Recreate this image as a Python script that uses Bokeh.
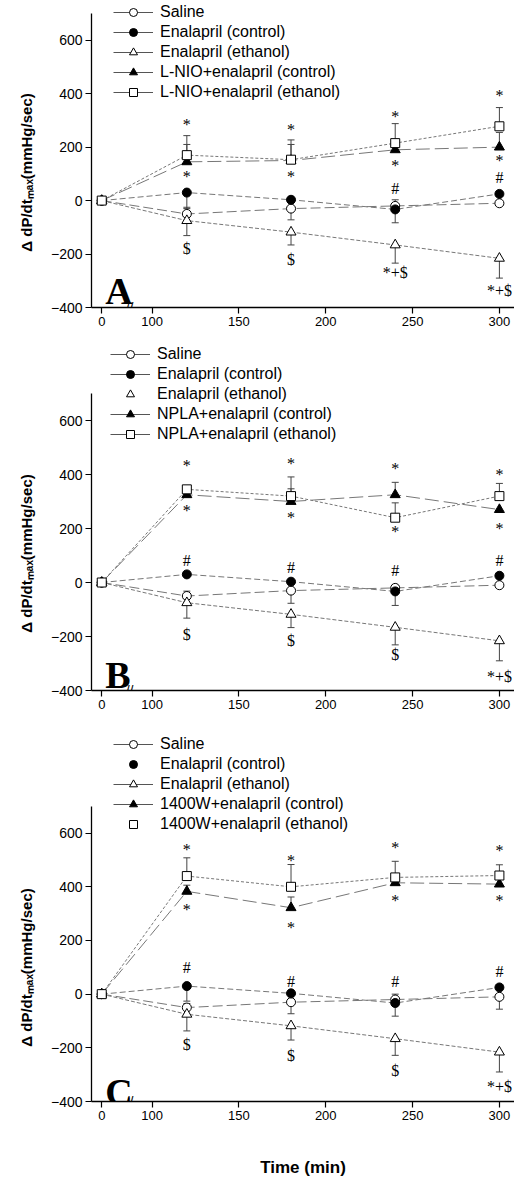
import math
from bokeh.plotting import figure
from bokeh.models import (ColumnDataSource, Whisker, TeeHead, Legend, LegendItem,
                          FixedTicker, Range1d, Label)
from bokeh.layouts import column, row
from bokeh.embed import file_html
from bokeh.resources import INLINE
from bokeh.core.properties import value

# ---------------- data ----------------
TIME = [0, 120, 180, 240, 300]
X_TICKS = [0, 100, 150, 200, 250, 300]
Y_TICKS = [-400, -200, 0, 200, 400, 600]

saline = [0, -50, -30, -20, -10]
enal_ctrl = [0, 30, 3, -33, 25]
enal_eth = [0, -75, -118, -166, -216]

# Panel A (L-NIO)
a_ctrl = [0, 145, 150, 190, 200]
a_ctrl_up = [0, 65, 60, 0, 55]
a_eth = [0, 170, 153, 215, 278]
a_eth_up = [0, 73, 74, 73, 70]
a_sal_up = [0, 25, 0, 23, 0]
a_sal_dn = [0, 0, 42, 0, 0]
a_ec_dn = [0, 60, 0, 50, 0]
a_ee_dn = [0, 56, 48, 68, 74]
a_ann_x = [120, 120, 120, 180, 180, 180, 240, 240, 240, 240, 300, 300, 300, 300]
a_ann_y = [284, 91, -181, 265, 91, -222, 316, 131, 44, -269, 394, 150, 88, -335]
a_ann_t = ["*", "*", "$", "*", "*", "$", "*", "*", "#", "*+$", "*", "*", "#", "*+$"]

# Panel B (NPLA)
b_ctrl = [0, 325, 300, 325, 270]
b_ctrl_up = [0, 0, 47, 46, 0]
b_eth = [0, 345, 320, 240, 320]
b_eth_up = [0, 0, 71, 55, 47]
b_sal_up = [0, 18, 0, 10, 0]
b_sal_dn = [0, 0, 47, 0, 0]
b_ec_dn = [0, 0, 0, 52, 0]
b_ee_dn = [0, 57, 49, 65, 74]
b_ann_x = [120, 120, 120, 120, 180, 180, 180, 180, 240, 240, 240, 240, 300, 300, 300, 300]
b_ann_y = [432, 265, 80, -194, 441, 241, 56, -214, 422, 188, 46, -268, 401, 201, 80, -349]
b_ann_t = ["*", "*", "#", "$", "*", "*", "#", "$", "*", "*", "#", "$", "*", "*", "#", "*+$"]

# Panel C (1400W)
c_ctrl = [0, 383, 322, 415, 410]
c_ctrl_up = [0, 23, 40, 0, 0]
c_eth = [0, 440, 400, 435, 442]
c_eth_up = [0, 68, 83, 60, 40]
c_sal_up = [0, 15, 0, 20, 0]
c_sal_dn = [0, 0, 43, 0, 46]
c_ec_dn = [0, 56, 0, 49, 0]
c_ee_dn = [0, 62, 53, 62, 74]
c_ann_x = [120, 120, 120, 120, 180, 180, 180, 180, 240, 240, 240, 240, 300, 300, 300, 300]
c_ann_y = [540, 317, 98, -189, 499, 249, 48, -230, 548, 348, 48, -284, 537, 348, 86, -343]
c_ann_t = ["*", "*", "#", "$", "*", "*", "#", "$", "*", "*", "#", "$", "*", "*", "#", "*+$"]

# ---------------- styling / layout ----------------
ZERO_AT = 71          # display position of t=0 on the broken axis
def xd(t):
    return t if t >= 100 else ZERO_AT

SANS = "Liberation Sans"
SERIF = "Liberation Serif"
LINE_COL = "#777777"
ERR_COL = "#444444"
YLABEL = "\u0394 dP/dt\u2098\u2090\u2093(mmHg/sec)"
NAN = float("nan")
PAGE_H = 1179
LABEL_W = 46
# vertical centre (page px from top) of each panel's rotated y-axis title
YLABEL_CENTRES = [172, 553, 967]

PANELS = [
    dict(letter="A", treat="L-NIO", ctrl=a_ctrl, ctrl_up=a_ctrl_up, eth=a_eth, eth_up=a_eth_up,
         sal_up=a_sal_up, sal_dn=a_sal_dn, ec_dn=a_ec_dn, ee_dn=a_ee_dn,
         ann=(a_ann_x, a_ann_y, a_ann_t), noline=set(),
         height=333, btop=0, bbot=26, ytop=748.6, loc=(22, 205), letter_y=-337, xlabel=None),
    dict(letter="B", treat="NPLA", ctrl=b_ctrl, ctrl_up=b_ctrl_up, eth=b_eth, eth_up=b_eth_up,
         sal_up=b_sal_up, sal_dn=b_sal_dn, ec_dn=b_ec_dn, ee_dn=b_ee_dn,
         ann=(b_ann_x, b_ann_y, b_ann_t), noline={2},
         height=385, btop=8, bbot=28, ytop=892.6, loc=(19, 246), letter_y=-344, xlabel=None),
    dict(letter="C", treat="1400W", ctrl=c_ctrl, ctrl_up=c_ctrl_up, eth=c_eth, eth_up=c_eth_up,
         sal_up=c_sal_up, sal_dn=c_sal_dn, ec_dn=c_ec_dn, ee_dn=c_ee_dn,
         ann=(c_ann_x, c_ann_y, c_ann_t), noline={1, 4},
         height=461, btop=12, bbot=77, ytop=982.4, loc=(22, 267), letter_y=-363, xlabel="Time (min)"),
]


def whisker(p, ys, errs, up):
    xs, lo, hi = [], [], []
    for t, y, e in zip(TIME, ys, errs):
        if e > 0:
            xs.append(xd(t))
            lo.append(y if up else y - e)
            hi.append(y + e if up else y)
    if not xs:
        return
    src = ColumnDataSource(dict(x=xs, lower=lo, upper=hi))
    head = TeeHead(size=7, line_color=ERR_COL, line_width=1)
    w = Whisker(source=src, base="x", lower="lower", upper="upper", dimension="height",
                line_color=ERR_COL, line_width=1, level="underlay",
                upper_head=head if up else None, lower_head=None if up else head)
    p.add_layout(w)


def make_panel(cfg):
    p = figure(width=514 - LABEL_W, height=cfg["height"], output_backend="svg",
               toolbar_location=None, title=None,
               x_range=Range1d(65.1, 308.7), y_range=Range1d(-400, cfg["ytop"]),
               min_border_left=91 - LABEL_W, min_border_right=0, min_border_top=cfg["btop"],
               min_border_bottom=cfg["bbot"])
    p.outline_line_color = None
    p.xgrid.visible = False
    p.ygrid.visible = False
    p.background_fill_color = "white"

    xs = [xd(t) for t in TIME]
    series = [
        ("Saline", saline, "circle", "white", "10 4", 9),
        ("Enalapril (control)", enal_ctrl, "circle", "black", "6 3", 9),
        ("Enalapril (ethanol)", enal_eth, "triangle", "white", "4 2", 10),
        (cfg["treat"] + "+enalapril (control)", cfg["ctrl"], "triangle", "black", "14 5", 10),
        (cfg["treat"] + "+enalapril (ethanol)", cfg["eth"], "square", "white", "3 2", 9),
    ]

    for name, ys, mk, fill, dash, sz in series:
        p.line(xs, ys, line_color=LINE_COL, line_width=1, line_dash=dash)

    whisker(p, saline, cfg["sal_up"], True)
    whisker(p, saline, cfg["sal_dn"], False)
    whisker(p, enal_ctrl, cfg["ec_dn"], False)
    whisker(p, enal_eth, cfg["ee_dn"], False)
    whisker(p, cfg["ctrl"], cfg["ctrl_up"], True)
    whisker(p, cfg["eth"], cfg["eth_up"], True)

    items = []
    for i, (name, ys, mk, fill, dash, sz) in enumerate(series):
        r = p.scatter(xs, ys, marker=mk, size=sz, fill_color=fill, line_color="black", line_width=1)
        rends = []
        if i not in cfg["noline"]:
            # legend-only solid line (no visible data)
            rends.append(p.line(x=[NAN, NAN], y=[NAN, NAN], line_color="#555555", line_width=1))
        rends.append(r)
        items.append(LegendItem(label=name, renderers=rends))

    ax, ay, at = cfg["ann"]
    p.text(x=[xd(t) for t in ax], y=ay, text=at, text_font=value(SERIF),
           text_font_size="16px", text_align="center", text_baseline="middle",
           text_color="black")

    legend = Legend(items=items, location=cfg["loc"], orientation="vertical",
                    label_text_font=SANS, label_text_font_size="16px", label_text_color="black",
                    glyph_width=40, glyph_height=20, label_height=20, label_standoff=7,
                    spacing=0, padding=0, margin=0, border_line_color=None,
                    background_fill_alpha=0)
    p.add_layout(legend)

    p.add_layout(Label(x=73, y=cfg["letter_y"], text=cfg["letter"], text_font=SERIF,
                       text_font_size="38px", text_font_style="bold", text_color="black",
                       text_baseline="alphabetic", text_align="left"))
    # axis-break mark across the x axis
    p.add_layout(Label(x=87, y=-400, text="//", text_font=SANS, text_font_size="14px",
                       text_color="black", text_align="center", text_baseline="middle"))

    # axes
    p.xaxis.ticker = FixedTicker(ticks=[xd(t) for t in X_TICKS])
    p.xaxis.major_label_overrides = {ZERO_AT: "0"}
    p.yaxis.ticker = FixedTicker(ticks=Y_TICKS)
    p.yaxis.bounds = (-400, 700)
    for ax_ in (p.xaxis, p.yaxis):
        ax_.axis_line_color = "black"
        ax_.axis_line_width = 1.3
        ax_.major_tick_line_color = "black"
        ax_.major_tick_line_width = 1.2
        ax_.major_tick_out = 6
        ax_.major_tick_in = 0
        ax_.minor_tick_line_color = None
        ax_.major_label_standoff = 3
        ax_.major_label_text_font = SANS
        ax_.major_label_text_color = "black"
    p.yaxis.major_label_text_font_size = "14px"
    p.xaxis.major_label_text_font_size = "13px"

    if cfg["xlabel"]:
        p.xaxis.axis_label = cfg["xlabel"]
        p.xaxis.axis_label_text_font = SANS
        p.xaxis.axis_label_text_font_style = "bold"
        p.xaxis.axis_label_text_font_size = "17px"
        p.xaxis.axis_label_text_color = "black"
        p.xaxis.axis_label_standoff = 35
    return p


# narrow strip at the left that carries the three rotated y-axis titles
lab = figure(width=LABEL_W, height=PAGE_H, output_backend="svg", toolbar_location=None,
             title=None, x_axis_type=None, y_axis_type=None,
             x_range=Range1d(0, LABEL_W), y_range=Range1d(0, PAGE_H),
             min_border_left=0, min_border_right=0, min_border_top=0, min_border_bottom=0)
lab.outline_line_color = None
lab.background_fill_color = "white"
lab.text(x=[26] * 3, y=[PAGE_H - c for c in YLABEL_CENTRES], text=[YLABEL] * 3,
         angle=math.pi / 2, text_font=value(SANS), text_font_style="bold",
         text_font_size="15px", text_align="center", text_baseline="middle",
         text_color="black")

plots = [make_panel(c) for c in PANELS]
layout = row(lab, column(*plots, spacing=0), spacing=0)
open("out.html", "w").write(file_html(layout, INLINE))
